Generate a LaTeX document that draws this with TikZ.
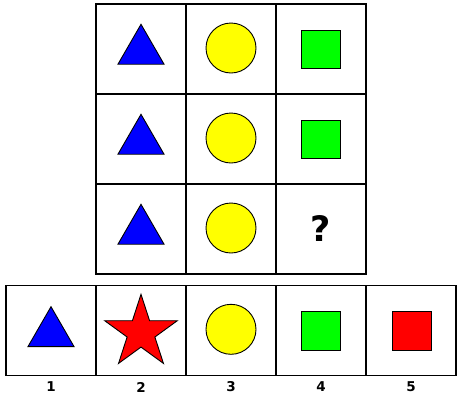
\documentclass[tikz,border=0pt]{standalone}
\usepackage{fontspec}
\setmainfont{Liberation Sans}
\newfontfamily\heavyfont{DejaVu Sans}
\usetikzlibrary{shapes.geometric}
\definecolor{cblue}{RGB}{0,0,255}
\definecolor{cyellow}{RGB}{255,255,0}
\definecolor{cgreen}{RGB}{0,255,0}
\definecolor{cred}{RGB}{255,0,0}
\begin{document}
\begin{tikzpicture}[x=1pt,y=-1pt,
  cell/.style={draw=black,line width=1.3pt,minimum size=90pt,inner sep=0pt,outer sep=0pt},
  tri/.style={regular polygon,regular polygon sides=3,draw=black,line width=0.9pt,fill=cblue,minimum size=53.2pt,inner sep=0pt},
  circ/.style={circle,draw=black,line width=0.9pt,fill=cyellow,minimum size=50pt,inner sep=0pt},
  sq/.style={rectangle,draw=black,line width=0.9pt,minimum size=38.4pt,inner sep=0pt},
  starshape/.style={star,star points=5,star point ratio=2.618,draw=black,line width=0.9pt,fill=cred,minimum size=76.4pt,inner sep=0pt},
  lbl/.style={font=\heavyfont\bfseries\fontsize{13.5}{15}\selectfont,inner sep=0pt}]
\useasboundingbox[fill=white] (0,0) rectangle (458,416);
% top grid cells
\foreach \r/\y in {1/49,2/139,3/229}{
  \foreach \c/\x in {1/141,2/231,3/321}{
    \node[cell] (g\r\c) at (\x,\y) {};
  }
}
% bottom row cells
\foreach \c/\x in {1/51,2/141,3/231,4/321,5/411}{
  \node[cell] (b\c) at (\x,330.5) {};
}
% top grid shapes
\foreach \r in {1,2,3}{
  \node[tri] (t\r) at ([yshift=-1.9pt]g\r1.center) {};
  \node[circ] (c\r) at ([yshift=1pt]g\r2.center) {};
}
\node[sq,fill=cgreen] (s1) at ([yshift=-0.3pt]g13.center) {};
\node[sq,fill=cgreen] (s2) at ([yshift=-0.3pt]g23.center) {};
\node[font=\heavyfont\bfseries\fontsize{35}{38}\selectfont,inner sep=0pt] (q) at ([yshift=0.5pt]g33.center) {?};
% answer shapes
\node[tri] (a1) at ([yshift=-2.8pt]b1.center) {};
\node[starshape] (a2) at ([yshift=-2pt]b2.center) {};
\node[circ] (a3) at ([yshift=1.2pt]b3.center) {};
\node[sq,fill=cgreen] (a4) at ([yshift=-0.3pt]b4.center) {};
\node[sq,fill=cred] (a5) at ([xshift=0.8pt,yshift=-0.3pt]b5.center) {};
% labels
\foreach \c in {1,2,3,4,5}{
  \node[lbl] (l\c) at ([yshift=-11.5pt]b\c.south) {\c};
}
\end{tikzpicture}
\end{document}
